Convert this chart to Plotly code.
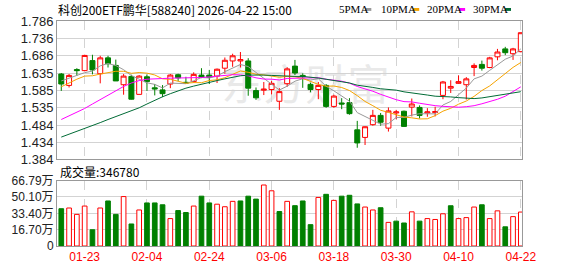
import plotly.graph_objects as go

# ---------------- data ----------------
dates = ["01-20","01-21","01-22","01-23","01-26","01-27","01-28","01-29","01-30",
         "02-02","02-03","02-04","02-05","02-06","02-09","02-10","02-11","02-12","02-13",
         "02-24","02-25","02-26","02-27",
         "03-02","03-03","03-04","03-05","03-06","03-09","03-10","03-11","03-12","03-13",
         "03-16","03-17","03-18","03-19","03-20","03-23","03-24","03-25","03-26","03-27",
         "03-30","03-31",
         "04-01","04-02","04-03","04-07","04-08","04-09","04-10","04-13","04-14","04-15",
         "04-16","04-17","04-20","04-21","04-22"]

opens = [1.632,1.599,1.645,1.642,1.671,1.633,1.679,1.657,1.601,1.625,
         1.573,1.624,1.592,1.586,1.603,1.630,1.608,1.610,1.629,1.629,
         1.626,1.649,1.670,1.670,1.670,1.584,1.585,1.587,1.553,1.604,
         1.655,1.628,1.602,1.587,1.599,1.538,1.548,1.549,1.470,1.448,
         1.485,1.512,1.475,1.519,1.524,1.536,1.535,1.519,1.520,1.570,
         1.591,1.605,1.601,1.651,1.660,1.651,1.682,1.705,1.691,1.697]
highs = [1.635,1.632,1.649,1.688,1.688,1.685,1.685,1.674,1.632,1.630,
         1.629,1.631,1.603,1.600,1.632,1.633,1.624,1.637,1.649,1.644,
         1.648,1.680,1.691,1.696,1.678,1.593,1.609,1.612,1.591,1.652,
         1.673,1.634,1.607,1.609,1.603,1.572,1.562,1.562,1.496,1.480,
         1.528,1.519,1.535,1.528,1.526,1.561,1.541,1.533,1.537,1.612,
         1.614,1.628,1.623,1.663,1.671,1.682,1.705,1.711,1.708,1.752]
lows = [1.583,1.593,1.627,1.640,1.631,1.605,1.651,1.612,1.572,1.558,
        1.573,1.583,1.570,1.565,1.591,1.612,1.604,1.607,1.620,1.603,
        1.606,1.633,1.653,1.651,1.569,1.557,1.571,1.573,1.528,1.595,
        1.629,1.592,1.579,1.559,1.534,1.534,1.530,1.514,1.418,1.426,
        1.482,1.482,1.465,1.501,1.479,1.509,1.503,1.508,1.509,1.559,
        1.577,1.604,1.558,1.626,1.642,1.649,1.672,1.687,1.673,1.695]
closes = [1.603,1.628,1.642,1.686,1.644,1.679,1.662,1.612,1.626,1.559,
          1.626,1.610,1.589,1.575,1.629,1.621,1.606,1.631,1.623,1.622,
          1.646,1.672,1.685,1.674,1.591,1.563,1.588,1.605,1.581,1.647,
          1.635,1.624,1.587,1.599,1.538,1.568,1.545,1.517,1.432,1.479,
          1.512,1.492,1.525,1.522,1.480,1.545,1.512,1.522,1.523,1.609,
          1.596,1.610,1.618,1.657,1.649,1.679,1.696,1.694,1.705,1.752]

# volume in units of 万 (10k shares)
volumes = [38.1,38.8,32.3,40.8,16.6,38.8,46.0,32.3,50.5,22.5,
           36.8,44.0,44.0,42.1,28.0,36.2,34.2,40.8,50.9,44.0,
           42.7,40.1,45.6,46.0,50.9,47.9,62.3,56.4,35.2,45.6,
           41.2,46.0,21.8,49.6,52.8,46.6,50.9,51.8,43.0,39.8,
           36.8,39.1,24.1,25.4,23.5,34.9,25.4,28.0,27.1,32.9,
           41.1,28.0,29.0,39.8,42.1,28.0,35.9,19.6,30.0,34.678]
last_volume = "346780"

# moving-average values before a full window is available on the chart
ma5_head = [1.612,1.620,1.628,1.636]
ma10_head = [1.595,1.607,1.617,1.626,1.627,1.632,1.636,1.640,1.640]
ma20_head = [1.500,1.510,1.520,1.532,1.545,1.558,1.571,1.584,1.596,1.606,
             1.613,1.617,1.619,1.619,1.620,1.620,1.620,1.621,1.622]
ma30_head = [1.449,1.457,1.466,1.474,1.483,1.491,1.500,1.508,1.517,1.525,
             1.534,1.545,1.556,1.566,1.575,1.584,1.591,1.597,1.603,1.608,
             1.613,1.618,1.623,1.627,1.629,1.630,1.629,1.628,1.627]

price_ticks = ["1.384","1.434","1.484","1.535","1.585","1.635","1.686","1.736","1.786"]
vol_ticks = [0, 16.70, 33.40, 50.10, 66.79]
vol_tick_text = ["0", "16.70万", "33.40万", "50.10万", "66.79万"]
date_ticks = ["01-23","02-04","02-24","03-06","03-18","03-30","04-10","04-22"]

title_text = "科创200ETF鹏华[588240] 2026-04-22 15:00"
ma_names = ["5PMA", "10PMA", "20PMA", "30PMA"]
watermark = "东方财富"

# ---------------- styles ----------------
RED = "#ff0000"
GREEN = "#008000"
MA_COLORS = ["#999999", "#f5a300", "#ff00ff", "#006b36"]
GRID = "#d3d3d3"
FRAME = "#999999"

def moving_average(vals, n, head):
    out = []
    for i in range(len(vals)):
        if i >= n - 1:
            out.append(sum(vals[i - n + 1:i + 1]) / n)
        else:
            out.append(head[i])
    return out

mas = [moving_average(closes, 5, ma5_head),
       moving_average(closes, 10, ma10_head),
       moving_average(closes, 20, ma20_head),
       moving_average(closes, 30, ma30_head)]

fig = go.Figure()

fig.add_trace(go.Candlestick(
    x=dates, open=opens, high=highs, low=lows, close=closes,
    increasing=dict(line=dict(color=RED, width=1), fillcolor="#ffffff"),
    decreasing=dict(line=dict(color=GREEN, width=1), fillcolor=GREEN),
    whiskerwidth=0, showlegend=False, hoverinfo="skip",
    xaxis="x", yaxis="y"))

for name, vals, col in zip(ma_names, mas, MA_COLORS):
    fig.add_trace(go.Scatter(x=dates, y=vals, mode="lines", name=name,
                             line=dict(color=col, width=1), showlegend=False,
                             hoverinfo="skip", xaxis="x", yaxis="y"))

# volume colours follow close vs previous close
vol_up = []
for i, c in enumerate(closes):
    prev = closes[i - 1] if i > 0 else opens[0]
    vol_up.append(c >= prev)

fig.add_trace(go.Bar(
    x=dates, y=volumes, width=0.6,
    marker=dict(color=["#ffffff" if u else GREEN for u in vol_up],
                line=dict(color=[RED if u else GREEN for u in vol_up], width=1)),
    showlegend=False, hoverinfo="skip", xaxis="x2", yaxis="y2"))

xrange = [-0.55, len(dates) - 0.85]
common_x = dict(type="category", range=xrange, showgrid=True, gridcolor=GRID,
                griddash="dash", gridwidth=1, tickvals=date_ticks,
                showline=True, mirror=True, linecolor=FRAME, linewidth=1,
                zeroline=False, fixedrange=True)

fig.update_layout(
    width=578, height=276,
    margin=dict(l=56, r=56, t=21, b=21),
    paper_bgcolor="#ffffff", plot_bgcolor="#ffffff",
    boxgap=0.2, boxgroupgap=0.2,
    xaxis=dict(domain=[0, 1], anchor="y", showticklabels=False,
               rangeslider=dict(visible=False), **common_x),
    xaxis2=dict(domain=[0, 1], anchor="y2", showticklabels=True, matches="x",
                tickfont=dict(family="Liberation Sans, Arial", size=12, color=RED),
                ticks="", **common_x),
    yaxis=dict(domain=[0.3846, 1], anchor="x", range=[1.384, 1.786],
               tickvals=[float(t) for t in price_ticks], ticktext=price_ticks,
               tickfont=dict(family="Liberation Sans, Arial", size=13, color="#222222"),
               showgrid=True, gridcolor=GRID, gridwidth=1, zeroline=False,
               showline=True, mirror=True, linecolor=FRAME, ticks="", fixedrange=True),
    yaxis2=dict(domain=[0, 0.2906], anchor="x2", range=[0, 66.79],
                tickvals=vol_ticks, ticktext=vol_tick_text,
                tickfont=dict(family="Liberation Sans, Noto Sans CJK SC", size=12, color="#222222"),
                showgrid=True, gridcolor=GRID, gridwidth=1, zeroline=False,
                showline=True, mirror=True, linecolor=FRAME, ticks="", fixedrange=True),
)

def py(pix):
    # convert pixel y of the page to paper coords
    return (255 - pix) / 234.0

def px(pix):
    return (pix - 56) / 466.0

annotations = [
    dict(text=title_text, x=px(55), y=py(9), xref="paper", yref="paper",
         xanchor="left", yanchor="middle", showarrow=False,
         font=dict(family="Noto Sans CJK SC", size=12, color="#000000")),
    dict(text="成交量:" + last_volume, x=px(57), y=py(178), xref="paper", yref="paper",
         xanchor="left", yanchor="middle", showarrow=False,
         font=dict(family="Noto Sans CJK SC", size=12, color="#000000")),
]
shapes = [
    # faint watermark drawn beneath the data
    dict(type="rect", xref="paper", yref="paper", layer="below",
         x0=px(215), x1=px(395), y0=py(112), y1=py(70),
         line=dict(width=0), fillcolor="rgba(0,0,0,0)",
         label=dict(text=watermark, textposition="middle center",
                    font=dict(family="Noto Sans CJK SC", size=42, color="#e9e9e9"))),
]
legend_x = [337, 379, 425, 471]
box_x = [365, 413, 459, 505]
for name, col, lx, bx in zip(ma_names, MA_COLORS, legend_x, box_x):
    annotations.append(dict(text=name, x=px(lx), y=py(9), xref="paper", yref="paper",
                            xanchor="left", yanchor="middle", showarrow=False,
                            font=dict(family="Liberation Serif, Times New Roman", size=11, color="#000000")))
    shapes.append(dict(type="rect", xref="paper", yref="paper",
                       x0=px(bx), x1=px(bx + 6), y0=py(10.5), y1=py(7.5),
                       fillcolor=col, line=dict(width=0)))

fig.update_layout(annotations=annotations, shapes=shapes)

fig.write_html("out.html")
